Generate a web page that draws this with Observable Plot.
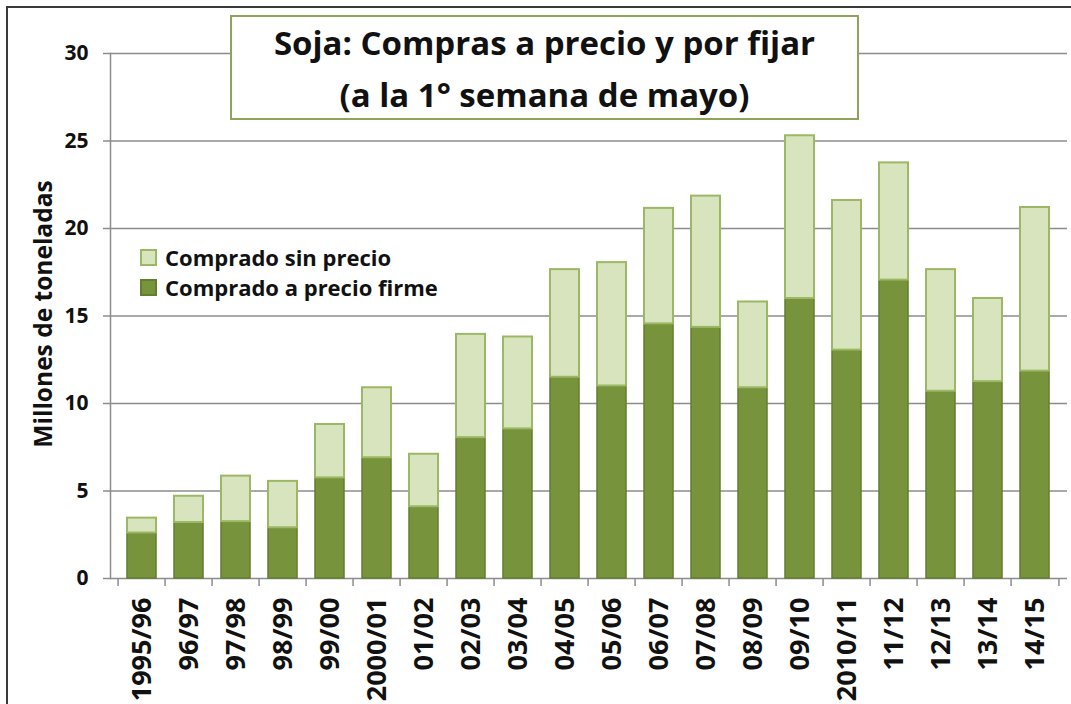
<!DOCTYPE html>
<html><head><meta charset="utf-8">
<script src="https://cdn.jsdelivr.net/npm/d3@7"></script>
<script src="https://cdn.jsdelivr.net/npm/@observablehq/plot@0.6"></script>
<style>
body{margin:0;background:#fff;font-family:"Open Sans",sans-serif;}
#wrap{position:relative;width:1071px;height:704px;overflow:hidden;background:#fff;}
#wrap svg{position:absolute;left:0;top:0;}
#border{position:absolute;left:6px;top:6px;width:1200px;height:800px;border-left:2px solid #3a3a3a;border-top:2px solid #3a3a3a;pointer-events:none;}
#title{position:absolute;left:230px;top:15px;width:625px;height:101px;border:2px solid #8EA45A;background:#fff;text-align:center;font-weight:700;font-size:33px;line-height:52px;color:#111;white-space:nowrap;}
#legend{position:absolute;left:140px;top:242px;font-weight:700;font-size:22px;color:#111;}
#legend .row{display:flex;align-items:center;height:30px;white-space:nowrap;}
#legend .sw{width:13px;height:13px;border:2px solid;margin-right:8px;}
</style></head>
<body>
<div id="wrap">
  <div id="chart"></div>
  <div id="border"></div>
  <div id="title">Soja: Compras a precio y por fijar<br>(a la 1° semana de mayo)</div>
  <div id="legend"></div>
</div>
<script>
const categories = ["1995/96","96/97","97/98","98/99","99/00","2000/01","01/02","02/03","03/04","04/05","05/06","06/07","07/08","08/09","09/10","2010/11","11/12","12/13","13/14","14/15"];
const firme     = [2.6, 3.2, 3.25, 2.9, 5.75, 6.9, 4.1, 8.05, 8.55, 11.5, 11.0, 14.55, 14.35, 10.9, 16.0, 13.05, 17.05, 10.7, 11.25, 11.85];
const sinPrecio = [0.85, 1.5, 2.6, 2.65, 3.05, 4.0, 3.0, 5.9, 5.25, 6.15, 7.05, 6.6, 7.5, 4.9, 9.3, 8.55, 6.7, 6.95, 4.75, 9.35];
const yTicks = [0, 5, 10, 15, 20, 25, 30];
const seriesNames = ["Comprado a precio firme", "Comprado sin precio"];
const fills = ["#77933C", "#D7E4BD"];
const strokes = ["#637E2E", "#9CB864"];
const yTitle = "Millones de toneladas";

const W = 1071, H = 704, mL = 110, mR = 4, mT = 53, mB = 126;
const step = (W - mL - mR) / categories.length;
const grid = "#8c8c8c";

const chart = Plot.plot({
  width: W, height: H,
  marginLeft: mL, marginRight: mR, marginTop: mT, marginBottom: mB,
  style: {fontFamily: "'Open Sans', sans-serif", background: "transparent", color: "#111"},
  x: {domain: categories, paddingInner: 0.38, paddingOuter: 0.19, label: null},
  y: {domain: [0, 30], label: null},
  marks: [
    Plot.gridY(yTicks, {stroke: grid, strokeOpacity: 1, strokeWidth: 1.5}),
    Plot.axisY(yTicks, {tickSize: 7, tickPadding: 15, stroke: grid, strokeWidth: 1.5, fontSize: 21, fontWeight: 700, fill: "#111", label: null}),
    Plot.frame({anchor: "left", stroke: grid, strokeWidth: 1.5}),
    Plot.axisX({tickSize: 8, fill: "none", dx: -step / 2, stroke: grid, strokeWidth: 1.5, label: null}),
    Plot.axisX([categories[categories.length - 1]], {tickSize: 8, fill: "none", dx: step / 2, stroke: grid, strokeWidth: 1.5, label: null}),
    Plot.axisX({tickSize: 0, tickPadding: 19, tickRotate: -90, fontSize: 27, fontWeight: 700, fill: "#111", label: null}),
    Plot.barY(categories, {x: d => d, y: (d, i) => firme[i], fill: fills[0], stroke: strokes[0], strokeWidth: 1.5}),
    Plot.barY(categories, {x: d => d, y1: (d, i) => firme[i], y2: (d, i) => firme[i] + sinPrecio[i], fill: fills[1], stroke: strokes[1], strokeWidth: 2}),
    Plot.text([yTitle], {frameAnchor: "left", textAnchor: "middle", dx: -66, dy: -2, rotate: -90, fontSize: 24.5, fontWeight: 700, fill: "#111"})
  ]
});
document.getElementById("chart").appendChild(chart);

const legend = document.getElementById("legend");
[1, 0].forEach(i => {
  const row = document.createElement("div");
  row.className = "row";
  const sw = document.createElement("span");
  sw.className = "sw";
  sw.style.background = fills[i];
  sw.style.borderColor = strokes[i];
  const t = document.createElement("span");
  t.textContent = seriesNames[i];
  row.appendChild(sw); row.appendChild(t);
  legend.appendChild(row);
});
</script>
</body></html>
